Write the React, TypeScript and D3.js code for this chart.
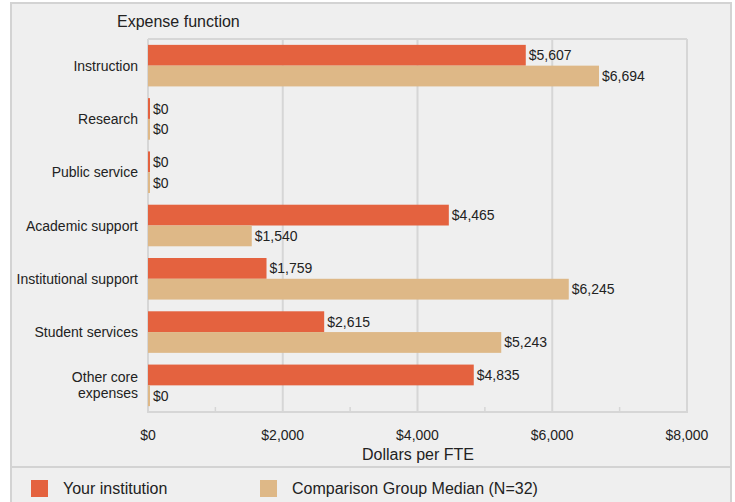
import React from "react";
import * as d3 from "d3";

const categories = ["Instruction", "Research", "Public service", "Academic support", "Institutional support", "Student services", "Other core|expenses"];
const yourInstitution = [5607, 0, 0, 4465, 1759, 2615, 4835];
const comparisonMedian = [6694, 0, 0, 1540, 6245, 5243, 0];
const xTicks = [0, 2000, 4000, 6000, 8000];
const minorTicks = [1000, 3000, 5000, 7000];
const seriesNames = ["Your institution", "Comparison Group Median (N=32)"];
const colors = ["#e4623f", "#deb887"];

export default function App() {
  const W = 735, H = 502;
  const x = d3.scaleLinear().domain([0, 8000]).range([148, 687]);
  const y = d3.scaleBand().domain(categories).range([39, 412]).paddingInner(0.22).paddingOuter(0.11);
  const fmt = (v: number) => "$" + d3.format(",")(v);
  const font = "Liberation Sans, Arial, sans-serif";
  const bh = y.bandwidth() / 2;
  const grid = "#d6d6d6";
  const fs = 14;
  return (
    <svg width={W} height={H} style={{ position: "absolute", left: 0, top: 0 }} fontFamily={font}>
      <rect x={11} y={3} width={720} height={H + 5} fill="#efefef" stroke="#d3d3d3" strokeWidth={2} />
      <line x1={11} x2={731} y1={467} y2={467} stroke="#d3d3d3" strokeWidth={2} />
      <text x={117} y={27} fontSize={16} fill="#222">Expense function</text>
      <line x1={x(0)} x2={x(8000)} y1={39} y2={39} stroke={grid} strokeWidth={2} />
      {xTicks.map((t) => (
        <line key={t} x1={x(t)} x2={x(t)} y1={39} y2={412} stroke={grid} strokeWidth={2} />
      ))}
      <line x1={x(0) - 1} x2={x(8000) + 1} y1={412} y2={412} stroke={grid} strokeWidth={2} />
      {minorTicks.map((t) => (
        <line key={t} x1={x(t)} x2={x(t)} y1={407} y2={412} stroke={grid} strokeWidth={1.5} />
      ))}
      {categories.map((c, i) => {
        const y0 = y(c)!;
        const lines = c.split("|");
        const cy = y0 + bh;
        return (
          <g key={c}>
            <rect x={x(0)} y={y0} width={Math.max(2, x(yourInstitution[i]) - x(0))} height={bh} fill={colors[0]} />
            <rect x={x(0)} y={y0 + bh} width={Math.max(2, x(comparisonMedian[i]) - x(0))} height={bh} fill={colors[1]} />
            <text x={Math.max(x(0) + 2, x(yourInstitution[i])) + 3} y={y0 + bh / 2 + 5} fontSize={fs} fill="#222">{fmt(yourInstitution[i])}</text>
            <text x={Math.max(x(0) + 2, x(comparisonMedian[i])) + 3} y={y0 + bh * 1.5 + 5} fontSize={fs} fill="#222">{fmt(comparisonMedian[i])}</text>
            {lines.map((l, k) => (
              <text key={k} x={138} y={cy + 5 + (k - (lines.length - 1) / 2) * 16} textAnchor="end" fontSize={fs} fill="#222">{l}</text>
            ))}
          </g>
        );
      })}
      {xTicks.map((t) => (
        <text key={t} x={x(t)} y={440} textAnchor="middle" fontSize={fs} fill="#222">{fmt(t)}</text>
      ))}
      <text x={418} y={460} textAnchor="middle" fontSize={16} fill="#222">Dollars per FTE</text>
      {seriesNames.map((s, i) => {
        const lx = i === 0 ? 31 : 260;
        return (
          <g key={s}>
            <rect x={lx} y={480} width={17} height={17} fill={colors[i]} />
            <text x={lx + 32} y={494} fontSize={16} fill="#222">{s}</text>
          </g>
        );
      })}
    </svg>
  );
}
